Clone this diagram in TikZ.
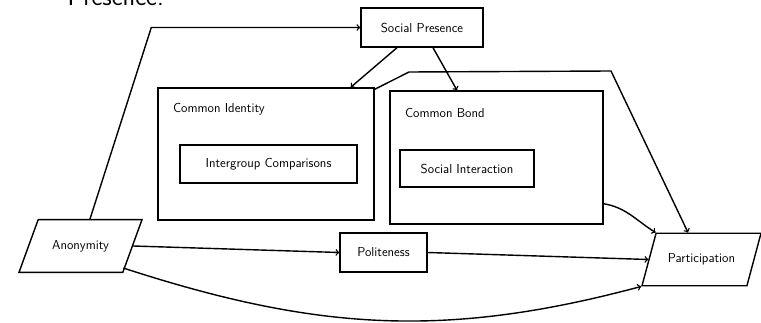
\documentclass[tikz,border=0pt]{standalone}
\usetikzlibrary{shapes.geometric}
\begin{document}
\begin{tikzpicture}
[
x = 1pt, y = 1pt, line width = 1.4pt, >=to, font = \fontsize{13}{15}\selectfont\sffamily,
factor/.style = {rectangle, draw, fill = white, inner sep = 3pt},
group/.style = {rectangle, draw},
outcome/.style = {trapezium, draw, trapezium stretches body = true, inner xsep = 2pt, inner ysep = 20.5pt},
caption/.style = {anchor = west, inner sep = 0pt}
]
    \useasboundingbox (0,0) rectangle (761,-323);
    \node[anchor = base west, inner sep = 0pt, font = \fontsize{26}{30}\selectfont\sffamily] (prev) at (67,-6) {Presence.};

    \node[factor, minimum width = 122pt, minimum height = 39pt] (sp) at (422,-27.5) {Social Presence};
    \node[group, minimum width = 216pt, minimum height = 132pt] (ci) at (266,-154) {};
    \node[caption] (cilabel) at ([xshift = 15pt, yshift = -22pt]ci.north west) {Common Identity};
    \node[factor, minimum width = 177pt, minimum height = 38pt] (ic) at (268.5,-164) {Intergroup Comparisons};
    \node[group, minimum width = 213pt, minimum height = 133pt] (cb) at (496.5,-157.5) {};
    \node[caption] (cblabel) at ([xshift = 15pt, yshift = -23pt]cb.north west) {Common Bond};
    \node[factor, minimum width = 134pt, minimum height = 37pt] (si) at (467,-168.5) {Social Interaction};
    \node[outcome, trapezium left angle = 70, trapezium right angle = 110, minimum width = 123pt] (an) at (80.5,-246) {Anonymity};
    \node[factor, minimum width = 87pt, minimum height = 39pt] (po) at (383.5,-252.5) {Politeness};
    \node[outcome, trapezium left angle = 75, trapezium right angle = 105, minimum width = 119pt] (pa) at (701.5,-259.5) {Participation};


    \draw[->] ([xshift = 9.5pt]an.north) -- ([xshift = -209pt]sp.west) -- (sp.west);
    \draw[->] ([xshift = -25pt]sp.south) -- ([xshift = -24pt]ci.north east);
    \draw[->] ([xshift = 11pt]sp.south) -- ([xshift = -39.5pt]cb.north);
    \draw[->] ([yshift = -2pt]ci.north east) -- (409,-72) -- (611,-71) -- ([xshift = -13.5pt]pa.north);
    \draw[->] ([yshift = 21pt]cb.south east) to[out = -10, in = 148] (pa.top left corner);
    \draw[->] (an.east) -- (po.west);
    \draw[->] (po.east) -- (pa.west);
    \draw[->] ([yshift = 5pt]an.bottom right corner) to[out = -18, in = 195] (pa.bottom left corner);
\end{tikzpicture}
\end{document}
